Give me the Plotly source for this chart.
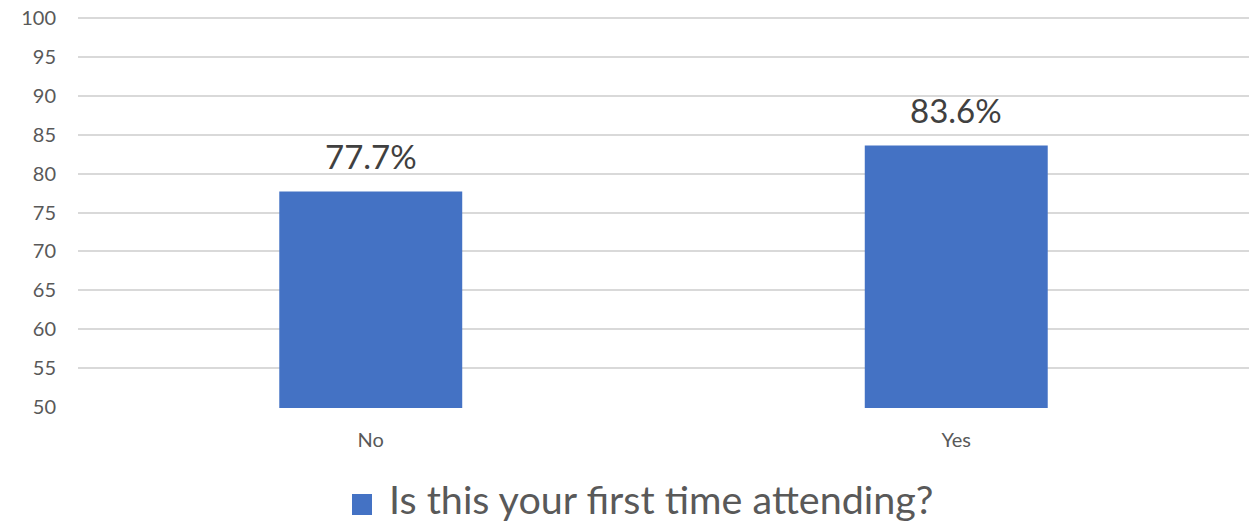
import plotly.graph_objects as go

# Survey result: share by first-time attendance
categories = ["No", "Yes"]
values = [77.7, 83.6]
y_ticks = [50, 55, 60, 65, 70, 75, 80, 85, 90, 95, 100]
series_name = "Is this your first time attending?"

BAR_COLOR = "#4472C4"
TEXT_GRAY = "#595959"
FONT = "Lato"

fig = go.Figure()
fig.add_trace(go.Bar(
    x=categories,
    y=values,
    width=0.3125,
    marker=dict(color=BAR_COLOR, line=dict(width=0)),
    name=series_name,
    showlegend=False,
))

# value labels above each bar
for cat, val in zip(categories, values):
    fig.add_annotation(
        x=cat, y=val, text=f"{val:.1f}%",
        showarrow=False, yanchor="bottom", yshift=14,
        font=dict(family=FONT, size=33, color="#404040"),
    )

M_L, M_R, M_T, M_B = 78, 9, 14, 114
PLOT_W = 1258 - M_L - M_R
PLOT_H = 522 - M_T - M_B
BOTTOM = 522 - M_B


def py(pixel_y):
    """paper y for a pixel row measured from the top of the figure"""
    return (BOTTOM - pixel_y) / PLOT_H


# legend: colored square + series name
fig.add_shape(
    type="rect", xref="paper", yref="paper",
    x0=(352 - M_L) / PLOT_W, x1=(372 - M_L) / PLOT_W,
    y0=py(515), y1=py(494),
    fillcolor=BAR_COLOR, line=dict(width=0),
)
fig.add_annotation(
    xref="paper", yref="paper",
    x=(387 - M_L) / PLOT_W, y=py(473),
    xanchor="left", yanchor="top",
    text=series_name, showarrow=False,
    font=dict(family=FONT, size=39.5, color=TEXT_GRAY),
)

fig.update_layout(
    width=1258, height=522,
    margin=dict(l=M_L, r=M_R, t=M_T, b=M_B, autoexpand=False),
    paper_bgcolor="white", plot_bgcolor="white",
    font=dict(family=FONT, color=TEXT_GRAY),
    xaxis=dict(
        type="category", range=[-0.5, 1.5], automargin=False,
        showgrid=False, zeroline=False, showline=False,
        ticks="outside", ticklen=14, tickcolor="rgba(0,0,0,0)",
        tickfont=dict(family=FONT, size=20, color=TEXT_GRAY),
    ),
    yaxis=dict(
        range=[49.9, 100.5], tickvals=y_ticks, automargin=False,
        showgrid=True, gridcolor="#d9d9d9", gridwidth=2,
        zeroline=False, showline=False,
        ticks="outside", ticklen=17, tickcolor="rgba(0,0,0,0)",
        tickfont=dict(family=FONT, size=20, color=TEXT_GRAY),
    ),
)

fig.write_html("out.html")
